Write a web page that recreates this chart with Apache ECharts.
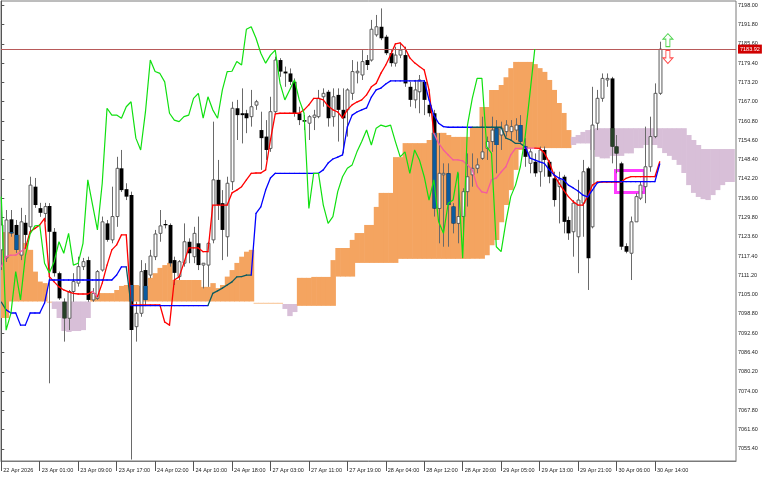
<!DOCTYPE html>
<html><head><meta charset="utf-8">
<script src="https://cdn.jsdelivr.net/npm/echarts@6/dist/echarts.min.js"></script>
<style>html,body{margin:0;padding:0;background:#fff}#c{width:768px;height:480px}</style>
</head><body><div id="c"></div>
<script>
// ---- DATA (H1 bars, index 0 = first visible bar) ----
const opens = [7119.4,7116.8,7129.2,7127.4,7117.7,7128.1,7126.8,7139.7,7132.8,7131.1,
7133.5,7125.2,7111.9,7102.7,7097.4,7106.0,7108.7,7114.0,7116.1,7103.3,
7103.8,7112.9,7127.9,7122.6,7130.1,7145.6,7138.9,7137.0,7094.7,7099.0,
7112.9,7111.3,7117.2,7124.7,7127.7,7127.4,7116.1,7110.8,7115.1,7122.0,
7117.2,7121.5,7114.5,7114.5,7122.6,7141.9,7134.4,7123.6,7141.3,7164.9,
7163.3,7163.3,7162.2,7165.9,7157.9,7155.8,7152.0,7163.8,7180.4,7176.7,
7176.1,7173.4,7163.3,7161.1,7160.1,7162.0,7162.2,7168.6,7170.2,7162.2,
7169.2,7164.4,7164.4,7169.7,7176.3,7175.6,7180.4,7180.4,7188.5,7191.1,
7187.9,7182.6,7179.4,7182.0,7182.0,7171.8,7167.6,7170.2,7173.4,7166.0,
7163.3,7132.7,7143.5,7144.0,7133.3,7127.9,7130.1,7138.1,7143.5,7145.6,
7148.8,7152.0,7154.2,7158.5,7156.3,7157.4,7157.4,7157.9,7159.5,7152.6,
7147.2,7147.7,7144.5,7151.5,7147.7,7142.4,7139.7,7142.9,7129.0,7125.2,
7123.6,7134.4,7145.6,7126.8,7160.1,7168.1,7174.0,7174.5,7152.6,7147.2,
7120.6,7118.3,7128.4,7136.0,7139.7,7146.1,7155.8,7169.7];
const highs = [7133.8,7132.2,7132.2,7129.0,7132.9,7130.6,7142.9,7142.5,7134.5,7134.5,
7134.4,7126.4,7112.4,7103.8,7106.5,7111.9,7117.2,7116.8,7117.2,7107.1,
7112.9,7130.1,7129.0,7139.7,7149.3,7151.5,7140.8,7138.1,7102.7,7116.1,
7115.1,7119.4,7125.8,7132.2,7129.0,7127.9,7117.2,7116.1,7127.9,7123.1,
7126.8,7130.1,7115.1,7122.0,7160.6,7148.3,7138.6,7142.9,7167.0,7167.6,
7171.3,7164.4,7170.8,7167.6,7163.8,7161.1,7168.6,7181.5,7181.0,7178.3,
7177.7,7174.5,7165.4,7162.7,7162.7,7164.4,7170.8,7171.3,7170.8,7171.3,
7171.3,7171.3,7171.3,7180.4,7179.9,7183.6,7182.0,7193.3,7194.9,7197.0,
7188.5,7183.6,7184.7,7185.8,7184.7,7173.4,7174.0,7175.6,7174.0,7166.5,
7164.4,7156.9,7147.2,7147.2,7134.4,7144.0,7139.2,7150.4,7150.4,7148.8,
7162.2,7155.8,7162.2,7161.1,7160.6,7161.1,7161.1,7161.7,7162.7,7155.3,
7152.0,7150.4,7152.6,7152.6,7148.3,7144.5,7144.5,7143.5,7130.1,7135.4,
7141.9,7148.3,7146.1,7171.8,7170.8,7176.1,7176.1,7175.0,7156.3,7147.7,
7121.5,7130.1,7137.6,7141.3,7159.0,7162.2,7172.9,7186.3];
const lows = [7112.9,7115.5,7123.6,7118.4,7116.1,7120.4,7124.7,7132.9,7130.0,7128.4,
7076.5,7110.8,7103.3,7089.9,7093.6,7102.7,7107.6,7112.9,7102.7,7102.7,
7103.3,7112.4,7122.0,7121.5,7126.8,7138.0,7135.4,7052.0,7089.9,7097.9,
7101.7,7110.3,7116.1,7122.0,7126.3,7114.0,7108.1,7109.7,7114.0,7115.1,
7115.1,7112.9,7107.0,7107.5,7121.5,7129.0,7116.1,7117.2,7138.6,7154.7,
7153.6,7156.9,7159.0,7164.4,7145.1,7148.3,7150.9,7163.3,7175.0,7171.8,
7172.4,7162.2,7159.5,7157.9,7154.7,7157.9,7161.7,7165.4,7159.0,7159.0,
7154.2,7150.4,7155.8,7167.6,7172.9,7174.0,7177.2,7179.9,7187.9,7186.8,
7182.0,7178.3,7178.3,7181.0,7171.8,7165.4,7164.9,7163.3,7162.7,7162.2,
7130.1,7121.5,7120.4,7120.4,7124.7,7121.5,7122.6,7133.3,7139.7,7144.0,
7148.3,7148.3,7150.9,7144.0,7151.5,7155.8,7154.7,7154.7,7153.6,7146.1,
7144.0,7142.9,7139.7,7142.9,7140.8,7133.3,7127.9,7124.7,7122.6,7117.2,
7111.9,7123.6,7106.5,7126.3,7157.9,7167.0,7171.8,7147.2,7144.0,7119.4,
7118.3,7109.7,7129.0,7135.4,7134.4,7144.5,7155.3,7169.2];
const closes = [7127.4,7129.0,7124.7,7119.4,7128.4,7124.2,7140.2,7133.8,7131.3,7133.3,
7125.2,7111.9,7103.8,7097.4,7106.0,7109.2,7114.0,7115.6,7103.3,7105.4,
7112.4,7128.4,7122.6,7130.1,7145.6,7138.6,7136.5,7093.6,7099.0,7112.4,
7103.3,7117.4,7124.5,7127.1,7127.3,7115.1,7112.0,7115.6,7122.0,7118.3,
7124.7,7114.5,7115.1,7121.5,7141.9,7133.8,7125.8,7140.8,7164.9,7162.7,
7162.7,7161.7,7165.4,7167.0,7155.3,7151.5,7163.8,7180.4,7176.7,7176.1,
7173.4,7163.3,7161.1,7160.6,7162.2,7162.7,7168.1,7169.7,7161.7,7168.6,
7164.4,7161.7,7170.8,7176.7,7176.8,7179.9,7178.8,7190.3,7191.1,7187.4,
7182.6,7179.4,7182.0,7183.6,7172.9,7167.6,7170.8,7174.0,7167.6,7163.3,
7132.7,7144.0,7144.0,7133.8,7127.9,7130.1,7138.1,7142.9,7145.6,7146.7,
7150.9,7154.2,7157.9,7153.1,7158.5,7159.5,7159.0,7159.5,7154.2,7149.3,
7150.9,7144.0,7151.5,7148.3,7142.9,7135.4,7141.9,7128.4,7124.7,7134.4,
7135.4,7144.5,7116.7,7159.5,7168.1,7174.5,7174.5,7152.6,7150.4,7120.4,
7118.8,7128.4,7136.5,7140.2,7146.1,7155.8,7169.7,7183.9];
const tenkan = [7114.0,7117.2,7117.7,7117.7,7118.8,7119.9,7125.2,7126.3,7127.4,7129.5,
7110.8,7109.1,7107.5,7106.5,7105.9,7105.4,7105.2,7105.2,7105.2,7106.0,
7104.3,7108.7,7114.5,7119.4,7121.0,7124.2,7124.2,7101.7,7101.7,7101.7,
7101.7,7101.7,7101.7,7101.7,7096.2,7095.2,7109.7,7110.7,7115.2,7120.0,
7120.0,7120.0,7118.8,7118.8,7133.8,7133.8,7133.8,7133.8,7137.7,7138.6,
7139.7,7141.9,7144.0,7144.1,7144.1,7145.1,7154.7,7163.1,7163.3,7163.3,
7163.3,7163.3,7163.3,7164.4,7166.0,7168.1,7168.1,7167.6,7165.6,7164.4,
7163.7,7161.8,7164.4,7166.0,7166.9,7167.6,7169.2,7171.8,7172.9,7176.2,
7178.8,7182.0,7185.6,7185.9,7184.3,7181.1,7179.5,7178.3,7177.2,7170.8,
7156.9,7153.7,7151.5,7149.9,7148.3,7148.3,7148.0,7146.7,7145.1,7139.9,
7138.0,7137.7,7141.9,7142.5,7144.4,7146.1,7149.9,7152.0,7152.0,7152.1,
7152.1,7152.1,7152.0,7150.5,7147.6,7143.5,7140.9,7138.6,7136.5,7134.9,
7133.8,7133.8,7136.5,7140.2,7141.2,7141.2,7141.2,7141.2,7141.2,7141.2,
7142.4,7142.9,7142.9,7142.9,7142.9,7142.9,7142.9,7147.7];
const kijun = [7102.6,7100.1,7099.1,7099.1,7095.2,7095.2,7099.1,7099.1,7099.1,7102.3,
7109.7,7109.7,7109.7,7109.7,7109.7,7109.7,7109.7,7109.7,7109.7,7109.7,
7109.7,7109.7,7109.7,7109.7,7111.3,7113.9,7113.9,7101.5,7101.5,7101.5,
7101.5,7101.5,7101.5,7101.5,7101.5,7101.5,7101.5,7101.5,7101.5,7101.5,
7101.5,7101.5,7101.5,7101.5,7105.4,7106.2,7107.1,7108.1,7109.1,7110.7,
7110.8,7111.3,7111.3,7131.1,7133.2,7138.6,7142.5,7144.0,7144.0,7144.0,
7144.0,7144.0,7144.0,7144.0,7144.0,7144.0,7144.0,7145.1,7147.3,7148.6,
7149.2,7149.9,7158.9,7162.7,7163.7,7164.4,7165.0,7168.5,7170.8,7171.4,
7172.7,7173.7,7173.7,7173.7,7173.7,7173.7,7173.7,7173.7,7173.7,7167.6,
7162.7,7160.1,7159.0,7158.8,7158.8,7158.8,7158.8,7158.8,7158.8,7158.8,
7158.8,7158.8,7158.8,7158.8,7158.8,7155.3,7154.7,7153.6,7153.6,7152.5,
7148.9,7148.3,7147.7,7147.2,7145.1,7143.5,7142.5,7141.9,7140.2,7139.3,
7138.3,7137.0,7136.4,7138.6,7140.9,7141.3,7141.3,7141.3,7141.3,7141.3,
7141.3,7141.3,7141.3,7141.3,7141.3,7141.3,7141.3,7147.0];
// Senkou spans as displayed (already shifted 26 bars forward), indices 0..152
const spanA = [7125.1,7125.1,7125.1,7124.2,7124.2,7121.6,7119.4,7112.4,7109.2,7108.7,
7102.3,7100.4,7097.5,7093.3,7093.0,7093.3,7093.3,7093.6,7097.5,7105.5,
7105.5,7105.5,7105.5,7105.5,7106.5,7107.8,7108.1,7108.1,7108.1,7107.8,
7107.8,7110.4,7111.9,7113.6,7114.5,7115.2,7109.7,7109.7,7109.7,7109.7,
7109.7,7109.7,7107.5,7107.5,7108.7,7107.1,7108.1,7110.8,7112.9,7115.2,
7117.2,7118.8,7119.4,7102.4,7102.4,7102.4,7102.4,7102.4,7102.4,7100.4,
7098.1,7099.4,7110.4,7110.4,7110.4,7110.7,7110.7,7110.7,7110.7,7116.1,
7120.0,7120.0,7120.0,7122.6,7124.8,7124.8,7127.4,7127.4,7133.2,7137.7,
7137.7,7137.7,7149.2,7149.2,7153.7,7153.7,7153.7,7153.7,7153.7,7154.7,
7157.0,7157.0,7157.0,7156.3,7155.7,7155.7,7155.7,7155.7,7158.9,7158.9,
7165.3,7165.3,7170.8,7170.8,7172.4,7174.9,7177.8,7179.8,7179.8,7179.8,
7179.8,7179.1,7177.8,7176.6,7174.0,7170.8,7166.6,7163.4,7157.9,7153.1,
7153.6,7153.6,7153.6,7151.5,7149.3,7148.8,7148.8,7149.6,7149.6,7149.6,
7150.4,7150.4,7152.1,7152.1,7153.1,7153.1,7153.1,7152.1,7150.5,7149.6,
7148.3,7146.7,7144.1,7140.2,7137.7,7136.4,7135.7,7135.4,7137.0,7138.6,
7140.2,7141.2,7141.2];
const spanB = [7097.5,7097.5,7102.8,7102.8,7102.8,7102.8,7102.8,7102.8,7102.8,7102.8,
7102.8,7102.8,7102.8,7102.8,7102.8,7102.8,7102.8,7102.8,7102.8,7102.8,
7102.8,7102.8,7102.8,7102.8,7102.8,7102.8,7102.8,7102.8,7102.8,7102.8,
7102.8,7102.8,7102.8,7102.8,7102.8,7102.8,7102.8,7102.8,7102.8,7102.8,
7102.8,7102.8,7102.8,7102.8,7102.8,7102.8,7102.8,7102.8,7102.8,7102.8,
7102.8,7102.8,7102.8,7102.0,7102.0,7102.0,7102.0,7102.0,7102.0,7102.0,
7102.0,7102.0,7101.4,7101.4,7101.4,7101.4,7101.4,7101.4,7101.4,7101.4,
7110.8,7110.8,7110.8,7110.8,7115.2,7115.2,7115.2,7115.2,7115.2,7115.2,
7115.2,7115.2,7115.2,7116.5,7116.5,7116.5,7116.5,7116.5,7116.5,7116.5,
7116.5,7116.5,7116.5,7116.5,7116.5,7116.5,7116.5,7116.5,7116.5,7116.5,
7116.5,7117.7,7120.9,7122.6,7128.3,7133.8,7138.6,7145.1,7151.5,7152.1,
7152.1,7152.1,7152.1,7152.1,7152.1,7152.1,7152.1,7152.1,7152.1,7155.7,
7156.3,7157.3,7157.9,7158.2,7158.5,7158.5,7158.5,7158.5,7158.5,7158.5,
7158.5,7158.5,7158.5,7158.5,7158.5,7158.5,7158.5,7158.5,7158.5,7158.5,
7158.5,7158.5,7158.5,7156.3,7154.7,7153.1,7151.8,7151.8,7151.8,7151.8,
7151.8,7151.8,7151.8];
const chikouShift = 26;
const timeTickBars = [0,8,16,24,32,40,48,56,64,72,80,88,96,104,112,120,128,136];
const timeTickLabels = ['22 Apr 2026','23 Apr 01:00','23 Apr 09:00','23 Apr 17:00','24 Apr 02:00',
'24 Apr 10:00','24 Apr 18:00','27 Apr 03:00','27 Apr 11:00','27 Apr 19:00','28 Apr 04:00',
'28 Apr 12:00','28 Apr 20:00','29 Apr 05:00','29 Apr 13:00','29 Apr 21:00','30 Apr 06:00','30 Apr 14:00'];
const priceTicks = [];
for (let k = 0; k <= 23; k++) priceTicks.push((70554 + 62 * k) / 10);
const lastPrice = 7183.92;
const boxObj = {bar0: 127.8, bar1: 133.8, top: 7144.9, bottom: 7137.8};
const arrowUpObj = {bar: 138.7, price: 7186.8};
const arrowDownObj = {bar: 138.7, price: 7181.4};

// ---- CHART ----
const chart = echarts.init(document.getElementById('c'), null, {renderer: 'canvas'});
const FONT = 'Liberation Sans';
const ORANGE = '#F4A460', THISTLE = '#D8BFD8';

function cloudAt(i) {
  const a = spanA[i], b = spanB[i];
  if (a == null || b == null) return null;
  return {lo: Math.min(a, b), hi: Math.max(a, b), bull: a >= b};
}

const cloudSeries = {
  type: 'custom', z: 1, clip: true, silent: true,
  data: spanA.map((a, i) => [i, a, spanB[i]]),
  renderItem(params, api) {
    const i = api.value(0), a = api.value(1), b = api.value(2);
    const p1 = api.coord([i - 0.5, Math.max(a, b)]);
    const p2 = api.coord([i + 0.5, Math.min(a, b)]);
    const thin = Math.abs(a - b) < 1;
    return {type: 'rect', shape: {x: p1[0], y: p1[1], width: p2[0] - p1[0] + 0.6, height: Math.max(p2[1] - p1[1], 1)},
      style: {fill: thin ? '#F9CFA8' : (a >= b ? ORANGE : THISTLE)}};
  }
};

const candleSeries = {
  type: 'custom', z: 2, clip: true, silent: true,
  data: opens.map((o, i) => [i, o, closes[i], lows[i], highs[i]]),
  renderItem(params, api) {
    const i = api.value(0), o = api.value(1), c = api.value(2), l = api.value(3), h = api.value(4);
    const pH = api.coord([i, h]), pL = api.coord([i, l]);
    const pO = api.coord([i, o]), pC = api.coord([i, c]);
    const bw = api.size([1, 0])[0] * 0.6;
    const x = Math.round(pH[0]) + 0.5;
    const kids = [{type: 'line', shape: {x1: x, y1: pH[1], x2: x, y2: pL[1]}, style: {stroke: '#6a6a6a', lineWidth: 1}}];
    const top = Math.min(pO[1], pC[1]), bot = Math.max(pO[1], pC[1]);
    const hh = Math.max(bot - top, 1);
    if (c >= o) {
      kids.push({type: 'rect', shape: {x: x - bw / 2, y: top, width: bw, height: hh}, style: {fill: '#fff', stroke: '#5a5a5a', lineWidth: 1}});
    } else {
      kids.push({type: 'rect', shape: {x: x - bw / 2 - 0.5, y: top, width: bw + 1, height: hh}, style: {fill: '#000'}});
      const cl = cloudAt(i);
      if (cl) {
        const t = Math.min(o, cl.hi), b = Math.max(c, cl.lo);
        if (t > b) {
          const q1 = api.coord([i, t]), q2 = api.coord([i, b]);
          kids.push({type: 'rect', shape: {x: x - bw / 2 - 0.5, y: q1[1], width: bw + 1, height: q2[1] - q1[1]},
            style: {fill: cl.bull ? '#0B5B9F' : '#274027'}});
        }
      }
    }
    return {type: 'group', children: kids};
  }
};

function indLine(arr, color, xorColor, z) {
  return {
    type: 'custom', z, clip: true, silent: true,
    data: arr.map((v, i) => [i, v]),
    renderItem(params, api) {
      const i = api.value(0);
      if (i >= arr.length - 1) return null;
      const v0 = arr[i], v1 = arr[i + 1];
      const p0 = api.coord([i, v0]), p1 = api.coord([i + 1, v1]);
      const mid = (v0 + v1) / 2;
      const a = (spanA[i] + spanA[i + 1]) / 2, b = (spanB[i] + spanB[i + 1]) / 2;
      const col = (a > b && mid <= a && mid >= b) ? xorColor : color;
      return {type: 'line', shape: {x1: p0[0], y1: p0[1], x2: p1[0], y2: p1[1]},
        style: {stroke: col, lineWidth: 1.3, lineCap: 'round'}};
    }
  };
}

const chikouData = [];
for (let i = 0; i + chikouShift < closes.length; i++) chikouData.push([i, closes[i + chikouShift]]);

const upPath = 'path://M5,0 L10,5.5 L7,5.5 L7,13 L3,13 L3,5.5 L0,5.5 Z';
const downPath = 'path://M3,0 L7,0 L7,7.5 L10,7.5 L5,13 L0,7.5 L3,7.5 Z';

const xMin = -0.3 / 4.806, xMax = xMin + 735 / 4.806;

chart.setOption({
  animation: false,
  backgroundColor: '#ffffff',
  grid: {left: 1, right: 32, top: 1, bottom: 19, show: true, borderColor: '#7a7a7a', borderWidth: 1, backgroundColor: 'transparent'},
  xAxis: {
    type: 'value', min: xMin, max: xMax,
    splitLine: {show: false},
    axisLine: {show: true, lineStyle: {color: '#7a7a7a'}},
    axisTick: {show: true, customValues: timeTickBars, length: 10, lineStyle: {color: '#555'}},
    axisLabel: {customValues: timeTickBars, formatter: v => timeTickLabels[timeTickBars.indexOf(Math.round(v))] || '',
      align: 'left', fontSize: 5.5, fontFamily: FONT, color: '#222', margin: 6, padding: [0, 0, 0, 2]}
  },
  yAxis: {
    type: 'value', position: 'right', min: 7051.53, max: 7199.38, scale: true,
    splitLine: {show: false},
    axisLine: {show: true, lineStyle: {color: '#555'}},
    axisTick: {show: true, customValues: priceTicks, length: 3, lineStyle: {color: '#555'}},
    axisLabel: {customValues: priceTicks, formatter: v => v.toFixed(2), fontSize: 5.5, fontFamily: FONT, color: '#222', margin: 2}
  },
  series: [
    cloudSeries,
    candleSeries,
    indLine(tenkan, '#FF0000', '#F45B9F', 3),
    indLine(kijun, '#0000FF', '#0B5B60', 4),
    {
      type: 'line', z: 5, silent: true, symbol: 'none', data: chikouData,
      lineStyle: {color: '#10e010', width: 1.2},
      markLine: {
        silent: true, symbol: ['none', 'none'],
        lineStyle: {color: '#b85a5a', width: 1, type: 'solid'},
        label: {show: true, position: 'end', formatter: lastPrice.toFixed(2), color: '#fff', backgroundColor: '#d00000',
          fontSize: 5.5, fontFamily: FONT, padding: [2, 2, 1, 2], distance: 2},
        data: [{yAxis: lastPrice}]
      },
      markArea: {
        silent: true,
        itemStyle: {color: 'rgba(0,0,0,0)', borderColor: '#ff3cff', borderWidth: 3},
        label: {show: false},
        data: [[{coord: [boxObj.bar0, boxObj.top]}, {coord: [boxObj.bar1, boxObj.bottom]}]]
      },
      markPoint: {
        silent: true, label: {show: false},
        data: [
          {coord: [arrowUpObj.bar, arrowUpObj.price], symbol: upPath, symbolSize: [10, 13],
            itemStyle: {color: 'rgba(255,255,255,0)', borderColor: '#4fd34f', borderWidth: 1}},
          {coord: [arrowDownObj.bar, arrowDownObj.price], symbol: downPath, symbolSize: [10, 13],
            itemStyle: {color: 'rgba(255,255,255,0)', borderColor: '#ff4c4c', borderWidth: 1}}
        ]
      }
    }
  ]
});
</script>
</body></html>
